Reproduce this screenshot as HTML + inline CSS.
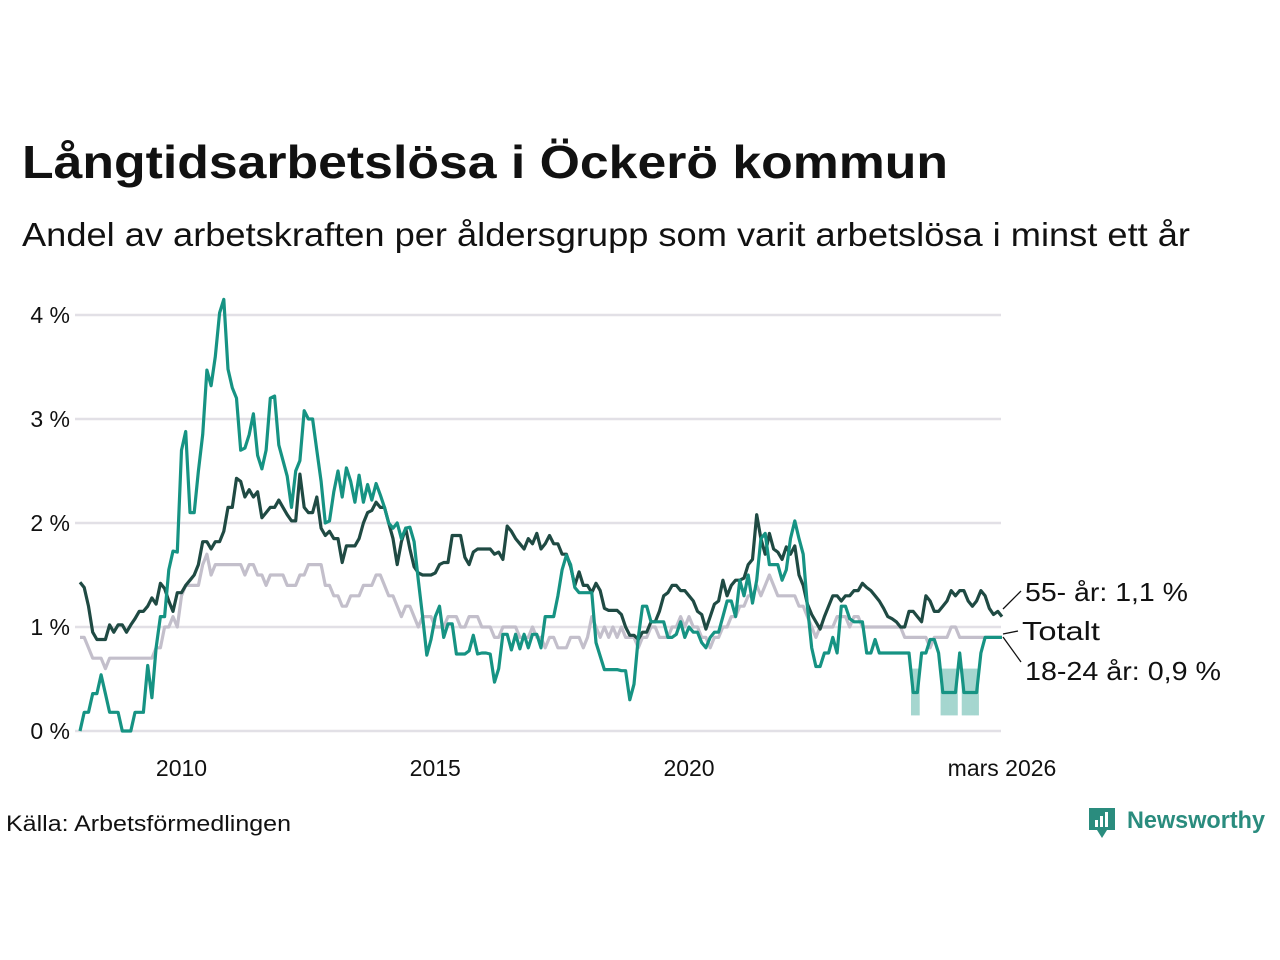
<!DOCTYPE html>
<html><head><meta charset="utf-8"><style>
html,body{margin:0;padding:0;background:#fff;}
svg{display:block;font-family:"Liberation Sans",sans-serif;}
</style></head><body>
<svg id="chart" width="1280" height="960" viewBox="0 0 1280 960">
<text x="22" y="178" font-size="46" font-weight="bold" fill="#111" textLength="926" lengthAdjust="spacingAndGlyphs">Långtidsarbetslösa i Öckerö kommun</text>
<text x="22" y="246" font-size="33" fill="#111" textLength="1168" lengthAdjust="spacingAndGlyphs">Andel av arbetskraften per åldersgrupp som varit arbetslösa i minst ett år</text>
<g id="grid"></g>
<g id="band"></g>
<g id="lines"></g>
<g id="labels">
<text x="1025" y="601" font-size="26" fill="#111" textLength="163" lengthAdjust="spacingAndGlyphs">55- år: 1,1 %</text>
<text x="1022" y="640" font-size="26" fill="#111" textLength="78" lengthAdjust="spacingAndGlyphs">Totalt</text>
<text x="1025" y="680" font-size="26" fill="#111" textLength="196" lengthAdjust="spacingAndGlyphs">18-24 år: 0,9 %</text>
<polyline points="1003,609 1021,591" fill="none" stroke="#111" stroke-width="1.3"/>
<polyline points="1003,634 1018,631" fill="none" stroke="#111" stroke-width="1.3"/>
<polyline points="1003,637 1021,662" fill="none" stroke="#111" stroke-width="1.3"/>
</g>
<text x="6" y="831" font-size="22" fill="#111" textLength="285" lengthAdjust="spacingAndGlyphs">Källa: Arbetsförmedlingen</text>
<g>
<path d="M1089,808 h26 v22 h-8 l-5,8 l-5,-8 h-8 z" fill="#2a8c7e"/>
<rect x="1095" y="820" width="3" height="7" fill="#fff"/><rect x="1100" y="816" width="3" height="11" fill="#fff"/><rect x="1105" y="812" width="3" height="15" fill="#fff"/>
<text x="1127" y="828" font-size="24" font-weight="bold" fill="#2a8c7e" textLength="138" lengthAdjust="spacingAndGlyphs">Newsworthy</text>
</g>
</svg>
<script>
const yTicks=[0,1,2,3,4];
const yTickLabels=["0 %","1 %","2 %","3 %","4 %"];
const xTickYears=[2010,2015,2020];
const xTickLabels=["2010","2015","2020","mars 2026"];
const startYear=2008;
const youth=[
0,0.18,0.18,0.36,0.36,0.54,0.36,0.18,0.18,0.18,0,0,
0,0.18,0.18,0.18,0.63,0.32,0.8,1.1,1.1,1.55,1.73,1.72,
2.7,2.88,2.1,2.1,2.5,2.85,3.47,3.32,3.6,4.02,4.15,3.48,
3.3,3.2,2.7,2.72,2.85,3.05,2.65,2.52,2.7,3.2,3.22,2.75,
2.6,2.45,2.15,2.5,2.6,3.08,3.0,3.0,2.7,2.4,2.0,2.02,
2.3,2.5,2.25,2.53,2.4,2.2,2.46,2.2,2.37,2.22,2.38,2.27,
2.15,2.0,1.95,2.0,1.85,1.95,1.96,1.82,1.45,1.1,0.73,0.88,
1.1,1.2,0.9,1.03,1.03,0.74,0.74,0.74,0.77,0.92,0.74,0.75,
0.75,0.74,0.47,0.6,0.93,0.93,0.78,0.93,0.79,0.93,0.8,0.93,
0.93,0.8,1.1,1.1,1.1,1.3,1.55,1.69,1.6,1.38,1.33,1.33,
1.33,1.33,0.85,0.72,0.59,0.59,0.59,0.59,0.58,0.58,0.3,0.45,
0.9,1.2,1.2,1.05,1.05,1.05,1.05,0.9,0.9,0.93,1.05,0.9,
1.0,0.95,0.95,0.85,0.8,0.9,0.95,0.95,1.1,1.25,1.25,1.1,
1.45,1.3,1.5,1.23,1.45,1.85,1.9,1.6,1.6,1.6,1.45,1.55,
1.85,2.02,1.85,1.7,1.2,0.8,0.62,0.62,0.75,0.75,0.9,0.75,
1.2,1.2,1.08,1.05,1.05,1.05,0.75,0.75,0.88,0.75,0.75,0.75,
0.75,0.75,0.75,0.75,0.75,0.37,0.37,0.75,0.75,0.88,0.88,0.75,
0.37,0.37,0.37,0.37,0.75,0.37,0.37,0.37,0.37,0.75,0.9,0.9,
0.9,0.9,0.9];
const age55=[
1.43,1.38,1.2,0.95,0.88,0.88,0.88,1.02,0.95,1.02,1.02,0.95,
1.02,1.08,1.15,1.15,1.2,1.28,1.22,1.42,1.37,1.25,1.15,1.33,
1.33,1.4,1.45,1.5,1.6,1.82,1.82,1.75,1.82,1.82,1.92,2.15,
2.15,2.43,2.4,2.25,2.32,2.25,2.3,2.05,2.1,2.15,2.15,2.22,
2.15,2.08,2.02,2.02,2.47,2.15,2.1,2.1,2.25,1.95,1.88,1.92,
1.85,1.85,1.62,1.78,1.78,1.78,1.85,2.0,2.1,2.12,2.2,2.15,
2.15,2.0,1.85,1.6,1.82,1.95,1.75,1.58,1.52,1.5,1.5,1.5,
1.52,1.6,1.62,1.62,1.88,1.88,1.88,1.67,1.6,1.72,1.75,1.75,
1.75,1.75,1.7,1.72,1.65,1.97,1.92,1.85,1.8,1.75,1.85,1.8,
1.9,1.75,1.8,1.88,1.8,1.8,1.7,1.7,1.58,1.4,1.53,1.4,
1.4,1.33,1.42,1.35,1.18,1.16,1.16,1.16,1.12,1.0,0.92,0.92,
0.88,0.95,0.95,1.05,1.05,1.15,1.3,1.33,1.4,1.4,1.35,1.35,
1.3,1.25,1.15,1.12,0.98,1.1,1.22,1.25,1.45,1.3,1.4,1.45,
1.45,1.47,1.6,1.65,2.08,1.85,1.7,1.9,1.75,1.72,1.65,1.77,
1.7,1.78,1.5,1.4,1.22,1.12,1.05,0.98,1.1,1.2,1.3,1.3,
1.25,1.3,1.3,1.35,1.35,1.42,1.38,1.35,1.3,1.25,1.18,1.1,
1.08,1.05,1.0,1.0,1.15,1.15,1.1,1.05,1.3,1.25,1.15,1.15,
1.2,1.25,1.35,1.3,1.35,1.35,1.25,1.2,1.25,1.35,1.3,1.18,
1.12,1.15,1.1];
const total=[
0.9,0.9,0.8,0.7,0.7,0.7,0.6,0.7,0.7,0.7,0.7,0.7,
0.7,0.7,0.7,0.7,0.7,0.7,0.8,0.8,1.0,1.0,1.1,1.0,
1.3,1.4,1.4,1.4,1.4,1.6,1.7,1.5,1.6,1.6,1.6,1.6,
1.6,1.6,1.6,1.5,1.6,1.6,1.5,1.5,1.4,1.5,1.5,1.5,
1.5,1.4,1.4,1.4,1.5,1.5,1.6,1.6,1.6,1.6,1.4,1.4,
1.3,1.3,1.2,1.2,1.3,1.3,1.3,1.4,1.4,1.4,1.5,1.5,
1.4,1.3,1.3,1.2,1.1,1.2,1.2,1.1,1.0,1.1,1.1,1.1,
1.0,1.0,1.0,1.1,1.1,1.1,1.0,1.0,1.1,1.1,1.1,1.0,
1.0,1.0,0.9,0.9,1.0,1.0,1.0,1.0,0.9,0.9,0.9,1.0,
0.9,0.9,0.8,0.9,0.9,0.8,0.8,0.8,0.9,0.9,0.9,0.8,
0.9,1.1,1.0,0.9,1.0,0.9,1.0,0.9,1.0,0.9,0.9,0.9,
0.8,0.9,0.9,1.0,1.0,0.9,0.9,0.9,1.0,1.0,1.1,1.0,
1.1,1.0,1.0,0.9,0.9,0.8,0.9,0.9,1.0,1.0,1.1,1.1,
1.2,1.2,1.3,1.3,1.4,1.3,1.4,1.5,1.4,1.3,1.3,1.3,
1.3,1.3,1.2,1.2,1.1,1.0,0.9,1.0,1.0,1.0,1.0,1.1,
1.1,1.1,1.0,1.1,1.1,1.0,1.0,1.0,1.0,1.0,1.0,1.0,
1.0,1.0,1.0,0.9,0.9,0.9,0.9,0.9,0.9,0.8,0.9,0.9,
0.9,0.9,1.0,1.0,0.9,0.9,0.9,0.9,0.9,0.9,0.9,0.9,
0.9,0.9,0.9];
const bandMonths=[197,198,204,205,206,207,209,210,211,212];
const bandLow=[0.15,0.15,0.15,0.15,0.15,0.15,0.15,0.15,0.15,0.15];
const bandHigh=[0.6,0.6,0.6,0.6,0.6,0.6,0.6,0.6,0.6,0.6];

const NS="http://www.w3.org/2000/svg";
const x0=80,x1=1002,nMonths=total.length;
const xScale=i=>x0+(x1-x0)*i/(nMonths-1);
const yScale=v=>731-v*104;
function el(t,a){const e=document.createElementNS(NS,t);for(const k in a)e.setAttribute(k,a[k]);return e;}
const grid=document.getElementById('grid');
yTicks.forEach((t,i)=>{
  const l=el('line',{x1:75,x2:1001,y1:yScale(t),y2:yScale(t),stroke:'#e2e0e6','stroke-width':2.5});
  
  
  grid.appendChild(l);
  const tx=el('text',{x:70,y:yScale(t)+8,'text-anchor':'end','font-size':23,fill:'#111'});
  tx.textContent=yTickLabels[i];
  
  
  grid.appendChild(tx);
});
xTickYears.forEach((yr,i)=>{
  const tx=el('text',{x:xScale((yr-startYear)*12),y:776,'text-anchor':'middle','font-size':23,fill:'#111'});
  tx.textContent=xTickLabels[i];
  
  
  grid.appendChild(tx);
});
const lastT=el('text',{x:xScale(nMonths-1),y:776,'text-anchor':'middle','font-size':23,fill:'#111'});
lastT.textContent=xTickLabels[3];


grid.appendChild(lastT);

const band=document.getElementById('band');
bandMonths.forEach((m,i)=>{
  const r=el('rect',{x:xScale(m)-2.2,width:4.5,y:yScale(bandHigh[i]),height:yScale(bandLow[i])-yScale(bandHigh[i]),fill:'#a5d6cf'});
  
  
  band.appendChild(r);
});
const lines=document.getElementById('lines');
function drawLine(arr,color,name){
  const pts=arr.map((v,i)=>xScale(i).toFixed(1)+','+yScale(v).toFixed(1)).join(' ');
  const p=el('polyline',{points:pts,fill:'none',stroke:color,'stroke-width':3.2,'stroke-linejoin':'round'});
  
  
  lines.appendChild(p);
}
drawLine(total,'#c3bfcb','line-total');
drawLine(age55,'#1f4a43','line-55-plus');
drawLine(youth,'#169383','line-18-24');
</script>
</body></html>
